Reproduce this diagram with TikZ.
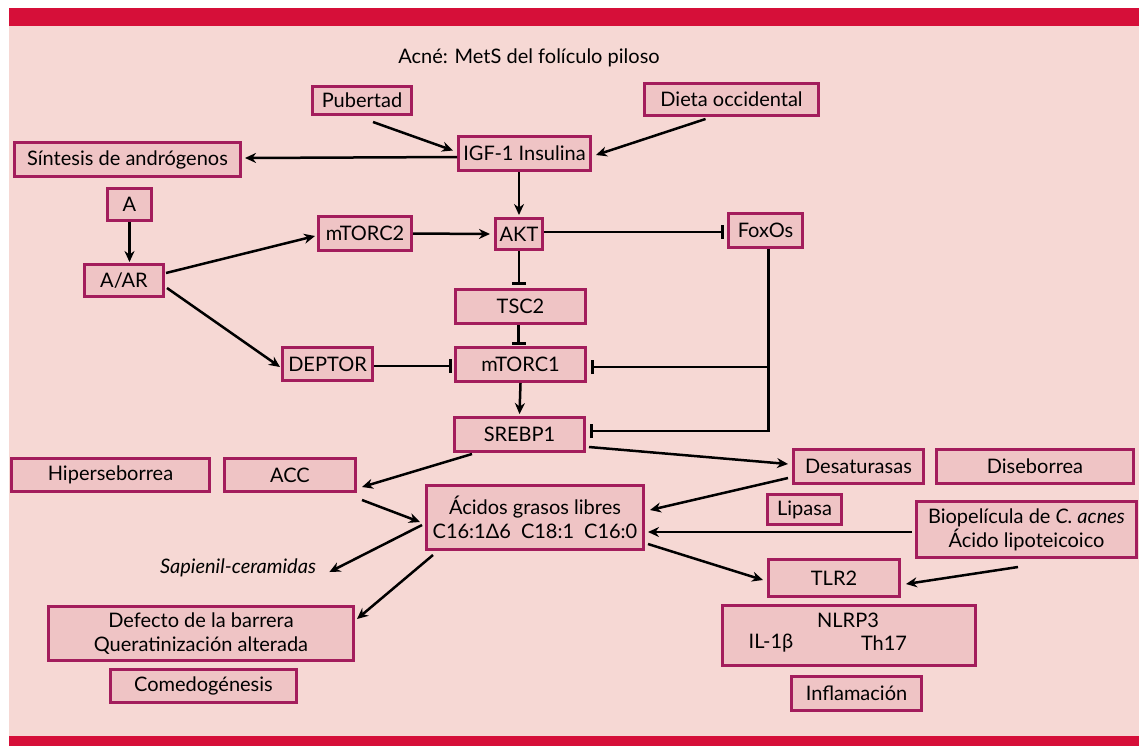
\documentclass[tikz,border=0pt]{standalone}
\usepackage{fontspec}
\setmainfont{Lato}
\usepackage{tikz}
\usetikzlibrary{arrows,arrows.meta}

\definecolor{bgpink}{HTML}{F6D8D4}
\definecolor{boxpink}{HTML}{EFC4C5}
\definecolor{boxline}{HTML}{A31D5C}
\definecolor{barred}{HTML}{D60F39}

\begin{document}
\begin{tikzpicture}[x=0.5pt,y=-0.5pt]

	\tikzstyle box=[draw=boxline, fill=boxpink, line width=1.3pt, inner sep=0pt, font=\fontsize{10}{12}\selectfont];
	\tikzstyle txt=[inner sep=0pt, font=\fontsize{10}{12}\selectfont];
	\tikzstyle arr=[line width=1.25pt, -{Stealth[length=5.5pt,width=5pt]}];
	\tikzstyle inh=[line width=1.25pt, -{Bar[width=7pt,line width=1.3pt]}];

	\useasboundingbox (0,0) rectangle (1139,746);
	\fill[bgpink] (9,8) rectangle (1139,746);
	\fill[barred] (9,8) rectangle (1139,26);
	\fill[barred] (9,736) rectangle (1139,746);

	\node[txt] (title) at (529,58) {Acné: MetS del folículo piloso};

	% single-line boxes: name/x/y/width/height/text
	\foreach \n/\x/\y/\w/\h/\t in {pub/362/100.5/102/31/Pubertad, diet/731.5/99.5/177/35/Dieta occidental,
		syn/127.5/159.5/229/37/Síntesis de andrógenos, igf/524.5/153.5/135/37/IGF-1 Insulina,
		a/129.5/204.5/47/35/A, aar/124/280.5/82/35/{A/AR}, mtorc2/365/233.5/96/37/mTORC2,
		deptor/327.5/364/93/36/DEPTOR, akt/519/234/50/34/AKT, foxos/765.5/230.5/77/37/FoxOs,
		tsc2/520.5/306.5/133/37/TSC2, mtorc1/520.5/364.5/133/37/mTORC1, srebp1/519.5/434.5/133/37/SREBP1,
		hiper/110.5/475/201/36/Hiperseborrea, acc/290/475/134/36/ACC, comedo/203.5/686/189/36/Comedogénesis,
		desat/858.5/466.5/133/37/Desaturasas, diseb/1035/466.5/200/37/Diseborrea, lipasa/804.5/509.5/77/33/Lipasa,
		tlr2/834/578/134/40/TLR2, infl/856.5/693.5/133/37/Inflamación}
		\node[box, minimum width=\w*0.5pt-1.3pt, minimum height=\h*0.5pt-1.3pt] (\n) at (\x,\y) {\t};

	\node[box, minimum width=308pt*0.5-1.3pt, minimum height=57*0.5pt-1.3pt, align=center] (defecto) at (201,633.5)
		{Defecto de la barrera\\Queratinización alterada};
	\node[box, minimum width=220*0.5pt-1.3pt, minimum height=67*0.5pt-1.3pt, align=center] (acidos) at (535,517.5)
		{Ácidos grasos libres\\C16:1Δ6\hspace{0.5em}C18:1\hspace{0.5em}C16:0};
	\node[box, minimum width=223*0.5pt-1.3pt, minimum height=59*0.5pt-1.3pt, align=center] (bio) at (1026.5,529.5)
		{Biopelícula de \textit{C. acnes}\\Ácido lipoteicoico};
	\node[box, minimum width=256*0.5pt-1.3pt, minimum height=63*0.5pt-1.3pt] (nlrp) at (849,635.5) {};
	\node[txt] (nlrp3) at (848,620) {NLRP3};
	\node[txt] (il1b) at (771,643) {IL-1β};
	\node[txt] (th17) at (884,643) {Th17};

	\node[txt, font=\fontsize{10}{12}\selectfont\itshape] (sap) at (238,568) {Sapienil-ceramidas};

	% activation
	\draw[arr] ([shift={(11,6)}]pub.south) -- ([shift={(-4,-3)}]igf.west);
	\draw[arr] ([shift={(-26,2)}]diet.south) -- ([shift={(4,1.5)}]igf.east);
	\draw[arr] ([yshift=-1.75pt]igf.west) -- ([shift={(3,-1.5)}]syn.east);
	\draw[arr] (igf.south -| akt.north) -- ([yshift=1pt]akt.north);
	\draw[arr] (a.south) -- ([yshift=0.5pt]a.south |- aar.north);
	\draw[arr] ([shift={(1,-7.5)}]aar.east) -- ([shift={(-2,2.5)}]mtorc2.west);
	\draw[arr] ([shift={(2,7.5)}]aar.east) -- ([shift={(-1,3)}]deptor.west);
	\draw[arr] (mtorc2.east) -- ([xshift=-2pt]akt.west);
	\draw[arr] (mtorc1.south) -- ([yshift=1pt]srebp1.north);

	% inhibition
	\draw[inh] ([yshift=1pt]akt.east) -- ([shift={(-3,-2)}]akt.east -| foxos.west);
	\draw[inh] (akt.south) -- ([yshift=1.5pt]akt.south |- tsc2.north);
	\draw[inh] ([xshift=-1pt]tsc2.south) -- ([shift={(-2,-1)}]tsc2.south |- mtorc1.north);
	\draw[inh] ([yshift=-1pt]deptor.east) -- ([shift={(-2,2)}]deptor.east -| mtorc1.west);
	\draw[inh] ([xshift=1.5pt]foxos.south) |- ([shift={(4,2.5)}]mtorc1.east);
	\draw[inh] ([xshift=1.5pt]foxos.south) |- ([shift={(4,-3.5)}]srebp1.east);

	% lipids
	\draw[arr] ([shift={(19,1)}]srebp1.south west) -- ([shift={(5,-6)}]acc.south east);
	\draw[arr] ([shift={(3,-6)}]srebp1.south east) -- ([shift={(-4,-2.5)}]desat.west);
	\draw[arr] ([shift={(5,7)}]acc.south east) -- ([shift={(-5,4.5)}]acidos.west);
	\draw[arr] ([shift={(-4,11.5)}]desat.west) -- ([shift={(5,-7.5)}]acidos.east);
	\draw[arr] ([shift={(-3,2.5)}]bio.west) -- ([shift={(3,14.5)}]acidos.east);
	\draw[arr] ([shift={(-3,7.5)}]acidos.west) -- ([shift={(13,4)}]sap.east);
	\draw[arr] ([shift={(8,4)}]acidos.south west) -- ([shift={(2,14)}]defecto.north east);
	\draw[arr] ([shift={(3,-7)}]acidos.south east) -- ([shift={(-4,2)}]tlr2.west);
	\draw[arr] ([shift={(-8.5,8)}]bio.south) -- ([shift={(5,6)}]tlr2.east);

\end{tikzpicture}
\end{document}
